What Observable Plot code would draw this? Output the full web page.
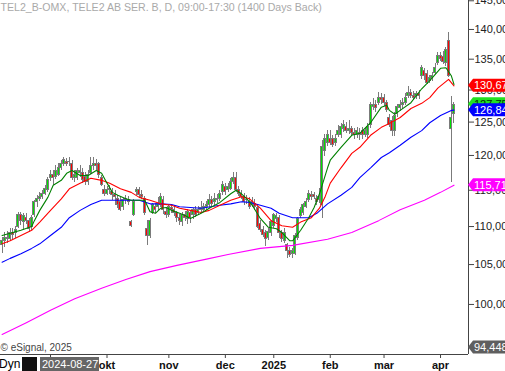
<!DOCTYPE html>
<html><head><meta charset="utf-8">
<script src="https://cdn.jsdelivr.net/npm/d3@7"></script>
<script src="https://cdn.jsdelivr.net/npm/@observablehq/plot@0.6"></script>
<style>
html,body{margin:0;padding:0;background:#fff;}
#wrap{position:relative;width:505px;height:371px;overflow:hidden;font-family:"Liberation Sans",Arial,sans-serif;background:#fff;}
.ov{position:absolute;white-space:nowrap;line-height:14px;}
</style></head><body>
<div id="wrap"></div>
<script>
// ---- data (daily candles, index 0 = early Aug 2024, index 168 = 2025-04-08) ----
const title = "TEL2_B-OMX, TELE2 AB SER. B, D, 09:00-17:30 (1400 Days Back)";
const copyright = "© eSignal, 2025";
const cursorDate = "2024-08-27";

const opens = [107.5,108.1,108.5,108.4,109.2,109.1,110.0,111.5,110.6,111.2,
110.8,109.9,111.5,113.3,113.8,114.1,114.5,115.0,116.7,117.1,
116.9,117.2,118.2,118.7,119.1,119.0,118.8,116.7,116.8,117.5,
117.5,116.9,116.1,117.5,118.4,118.7,118.7,116.7,115.1,114.5,
115.2,114.8,114.4,113.8,113.4,112.6,113.6,113.7,110.6,111.6,
114.7,115.0,114.4,113.8,109.7,108.7,111.9,112.7,112.6,113.0,
113.7,112.0,111.6,112.5,112.3,111.8,111.2,110.6,111.6,111.0,
111.8,111.5,112.3,111.9,112.2,112.3,112.6,112.9,113.6,113.3,
113.8,113.8,114.7,115.5,115.1,115.2,116.2,116.8,115.1,114.5,
114.1,113.6,113.3,112.9,113.1,112.5,110.4,109.6,109.1,108.5,
109.1,110.1,111.0,111.1,109.1,108.1,107.5,106.8,106.4,106.4,
108.5,111.4,111.9,112.7,113.6,114.3,114.4,113.8,113.6,112.9,
120.7,121.9,122.5,122.4,121.8,123.1,123.0,124.0,124.3,123.7,
123.9,123.3,123.1,123.4,123.7,123.1,123.1,124.5,127.4,127.7,
127.9,128.8,128.7,127.9,125.6,125.2,123.6,126.2,127.1,127.6,
127.9,129.0,129.5,129.1,129.0,129.3,132.2,133.0,132.5,131.5,
131.9,132.8,134.3,135.5,135.3,134.3,138.1,124.0,126.3];
const highs = [108.5,109.2,109.3,109.7,109.7,110.0,111.9,111.9,111.8,111.8,
111.1,111.5,113.6,114.3,114.7,115.0,115.7,116.8,117.8,117.8,
118.5,118.8,119.3,119.7,119.6,119.7,119.3,117.8,118.1,118.5,
118.1,117.5,117.8,119.7,119.7,119.4,119.0,117.1,115.7,115.5,
115.7,115.2,115.0,114.3,114.0,113.8,114.3,114.1,110.8,113.7,
115.4,115.4,115.0,114.1,110.8,111.1,113.1,113.1,114.0,114.5,
114.1,112.6,112.9,113.0,112.9,112.0,111.6,111.9,112.0,112.3,
112.2,112.5,112.7,112.7,113.4,113.1,113.4,114.4,114.1,114.5,
114.4,115.0,116.2,116.0,116.0,116.7,117.5,117.5,115.5,115.0,
114.5,114.3,114.0,114.0,113.7,112.7,110.8,110.0,109.5,109.7,
110.8,111.8,111.8,111.5,109.5,109.7,107.7,107.2,107.1,109.1,
111.2,112.6,113.1,113.8,115.0,114.8,114.7,114.3,115.2,122.2,
123.1,123.7,123.7,123.0,123.1,124.5,124.8,125.2,124.9,125.2,
124.3,124.0,124.2,124.0,124.2,124.0,124.8,128.0,128.7,128.4,
129.6,129.5,129.3,128.4,126.2,125.9,126.5,127.7,128.4,128.7,
129.5,130.6,130.1,129.8,129.8,129.9,134.0,133.5,133.2,132.3,
132.8,134.3,136.1,136.1,136.3,137.0,139.5,129.0,128.0];
const lows = [106.4,107.2,107.7,108.0,108.1,108.4,109.7,110.1,109.5,110.3,
109.2,109.5,111.2,112.6,113.4,113.7,114.3,114.7,116.2,115.7,
116.5,116.9,117.8,118.4,118.4,118.4,116.4,116.1,116.4,116.8,
116.0,115.7,115.7,117.2,117.8,117.8,116.7,115.5,114.1,114.3,
114.4,113.6,112.9,112.5,112.0,112.2,113.0,112.9,109.9,111.4,
114.3,114.0,113.7,111.5,107.5,108.4,111.6,111.8,112.2,112.6,
111.6,111.1,111.2,111.8,111.4,110.6,110.1,110.0,110.7,110.3,
110.4,111.0,111.2,111.5,111.9,112.0,112.2,112.5,112.6,112.9,
113.1,113.4,114.3,114.3,114.7,115.0,115.8,114.7,114.1,113.7,
112.9,113.0,112.3,112.6,112.2,109.7,109.2,108.5,107.3,108.1,
108.7,109.7,110.6,108.4,107.9,107.7,105.8,105.9,105.8,106.2,
108.1,111.1,111.5,112.5,113.3,113.6,113.7,112.9,113.1,111.1,
119.9,121.3,121.5,121.2,121.3,122.7,122.5,123.4,123.3,123.1,
122.8,122.4,122.5,122.2,122.4,122.7,122.5,124.0,126.8,126.5,
127.6,127.7,127.4,126.5,124.2,122.8,122.8,125.7,126.6,126.9,
127.6,128.7,128.7,128.4,128.5,128.5,131.7,131.5,130.9,131.1,
131.4,132.5,134.0,134.6,134.1,133.8,132.0,116.1,124.8];
const closes = [108.1,108.5,108.4,109.2,108.9,109.6,111.5,110.7,111.4,110.8,
109.7,111.1,113.3,113.8,114.1,114.5,115.2,116.4,117.2,116.8,
117.8,118.2,118.7,119.3,118.8,119.1,116.7,117.2,117.7,117.8,
116.5,116.1,117.2,118.5,118.8,118.4,117.1,115.8,114.5,115.1,
115.0,114.4,114.0,112.9,112.3,113.6,113.8,113.4,110.1,113.4,
115.0,114.4,114.1,111.9,108.7,110.7,112.9,112.3,113.1,114.0,
112.2,111.6,112.6,112.3,111.8,111.1,110.7,111.6,111.1,112.0,
111.2,112.2,111.6,112.3,112.5,112.7,113.0,113.7,113.1,113.8,
113.6,114.5,115.8,114.7,115.5,116.2,116.7,115.0,114.5,114.0,
113.3,113.7,112.7,113.4,112.6,110.0,109.6,108.9,108.4,109.3,
110.6,111.5,111.4,109.2,108.4,109.2,106.7,106.3,106.7,108.7,
111.0,112.2,112.9,113.4,114.5,114.0,114.0,113.4,114.1,121.3,
122.5,123.1,121.9,121.6,122.5,123.7,124.2,124.5,123.7,124.0,
123.3,123.0,123.6,123.1,123.0,123.6,124.2,127.6,127.7,127.1,
128.8,128.4,127.9,126.8,124.6,123.7,125.9,127.3,127.6,127.9,
128.8,129.6,129.1,128.8,129.3,129.0,133.5,132.2,131.2,131.9,
132.2,133.6,135.6,135.1,134.5,136.5,132.3,125.6,127.7];

// moving averages: [candle index, value]
const greenMA = [[0,108.8],[3,109.1],[7,109.5],[11,110.0],[12,110.8],[14,112.2],[17,114.0],[19,115.7],[22,116.4],[24,117.4],[26,117.8],[29,117.1],[32,117.1],[35,117.8],[37,117.4],[39,116.0],[41,114.7],[43,114.3],[46,113.8],[48,113.6],[53,113.6],[55,112.0],[57,111.8],[59,112.5],[61,112.6],[63,112.2],[66,111.8],[68,111.5],[70,111.1],[74,111.8],[77,112.5],[81,113.3],[85,114.5],[87,115.0],[89,114.5],[91,113.8],[93,112.9],[96,111.1],[99,109.9],[102,109.7],[104,109.2],[107,108.1],[108,108.1],[111,109.5],[114,111.2],[116,112.6],[118,114.5],[121,118.2],[122,119.3],[126,121.2],[130,123.0],[133,123.3],[137,124.9],[141,127.3],[143,127.6],[144,126.8],[146,126.2],[148,126.8],[152,128.0],[156,130.2],[159,131.5],[163,133.5],[165,133.6],[167,132.3],[168,130.9]];
const redMA = [[0,107.7],[3,108.1],[7,108.8],[11,109.5],[14,110.6],[18,112.2],[22,113.8],[25,115.2],[29,116.0],[33,116.7],[37,116.4],[40,116.0],[44,115.2],[48,114.7],[51,114.0],[55,113.6],[59,113.1],[63,112.9],[66,112.5],[70,112.2],[74,111.9],[77,112.2],[81,112.9],[85,113.6],[89,114.1],[92,113.8],[96,112.5],[100,110.8],[104,110.1],[106,110.0],[108,109.9],[111,110.6],[115,111.2],[118,112.5],[120,114.0],[122,116.0],[126,118.2],[130,120.3],[133,121.2],[137,123.0],[141,124.2],[144,124.8],[148,125.7],[152,127.1],[156,127.9],[159,128.8],[162,130.3],[166,131.7],[168,130.67]];
const blueMA = [[0,105.3],[3,105.8],[7,106.4],[11,107.1],[14,107.7],[18,108.8],[22,109.9],[25,111.2],[29,112.2],[33,113.0],[37,113.6],[51,113.6],[55,113.1],[59,113.1],[63,113.0],[66,112.7],[74,112.5],[81,112.9],[85,113.1],[89,113.4],[92,113.3],[96,112.9],[100,112.5],[103,111.8],[108,111.2],[114,111.2],[117,111.8],[121,113.1],[126,114.3],[130,115.4],[133,116.8],[137,118.2],[141,119.7],[144,120.4],[148,121.5],[152,122.7],[156,123.7],[159,124.9],[163,126.0],[167,126.8],[168,126.84]];
const magentaMA = [[0,96.4],[9,97.8],[18,99.3],[27,100.7],[37,102.0],[46,103.1],[55,104.1],[65,104.9],[76,105.7],[84,106.3],[96,107.1],[108,107.5],[121,108.3],[130,109.2],[140,110.8],[148,112.3],[157,113.6],[163,114.7],[168,115.71]];

// axes
const yTicks = [100,105,110,115,120,125,130,135,140,145];
const monthIdx = [18,39,62,83,101,122,142,163];
const monthLabels = ["","okt","nov","dec","2025","feb","mar","apr"];
const xDomain = [-0.6, 173.4];
const yDomain = [94.06, 145.05];

// price tags on the right axis
const tagValues = [130.67, 127.75, 126.84, 115.71, 94.448];
const tagFills = ["#ff0000", "#22e022", "#0000ff", "#ff00ff", "#5f5f5f"];
const tagTextColors = ["#ffffff", "#003300", "#ffffff", "#ffffff", "#ffffff"];

// ---- build ----
const candles = opens.map((o, i) => ({i, o, h: highs[i], l: lows[i], c: closes[i]}));
const up = candles.filter(d => d.c >= d.o);
const down = candles.filter(d => d.c < d.o);
const pts = arr => arr.map(([i, v]) => ({i, v}));
const labelOf = new Map(monthIdx.map((d, k) => [d, monthLabels[k]]));
const W = 505, H = 371, MR = 37, MB = 17;
const wick = "#7b7b7b";

const bodyOpts = (fill) => ({x1: d => d.i - 0.5, x2: d => d.i + 0.5, y1: "o", y2: "c",
  fill, stroke: wick, strokeWidth: 1, insetLeft: 0.35, insetRight: 0.35, shapeRendering: "crispEdges"});

const plot = Plot.plot({
  width: W, height: H,
  marginLeft: 0, marginRight: MR, marginTop: 0, marginBottom: MB,
  style: {fontFamily: '"Liberation Sans", Arial, sans-serif', background: "#fff", color: "#222", overflow: "hidden"},
  x: {type: "linear", domain: xDomain, axis: null},
  y: {type: "log", domain: yDomain, axis: null},
  marks: [
    Plot.ruleX(candles, {x: "i", y1: "l", y2: "h", stroke: wick, strokeWidth: 1, shapeRendering: "crispEdges"}),
    Plot.rect(up, bodyOpts("#00e000")),
    Plot.rect(down, bodyOpts("#ff0000")),
    Plot.line(pts(magentaMA), {x: "i", y: "v", stroke: "#ff00ff", strokeWidth: 1.1}),
    Plot.line(pts(blueMA), {x: "i", y: "v", stroke: "#0000ff", strokeWidth: 1.1}),
    Plot.line(pts(redMA), {x: "i", y: "v", stroke: "#ff0000", strokeWidth: 1.1}),
    Plot.line(pts(greenMA), {x: "i", y: "v", stroke: "#008000", strokeWidth: 1.1}),
    Plot.axisY({anchor: "right", ticks: yTicks, tickFormat: d => d.toFixed(2).replace(".", ","), label: null,
      tickSize: 5, tickPadding: 1, fontSize: 11, stroke: "#444", fill: "#222"}),
    Plot.axisX({ticks: monthIdx, tickFormat: d => labelOf.get(d), tickSize: 4, tickPadding: 3, label: null,
      fontSize: 11, fontWeight: "bold", stroke: "#444", fill: "#111"}),
    Plot.ruleX([xDomain[1]], {stroke: "#444", shapeRendering: "crispEdges"}),
    Plot.ruleY([yDomain[0]], {stroke: "#444", shapeRendering: "crispEdges"}),
    Plot.text([title], {frameAnchor: "top-left", text: d => d, textAnchor: "start", lineAnchor: "top",
      dx: 0, dy: 3, fontSize: 10.6, fill: "#a9a9a9"}),
    Plot.text([copyright], {frameAnchor: "bottom-left", text: d => d, textAnchor: "start", lineAnchor: "bottom",
      dx: 0, dy: -4, fontSize: 10, fill: "#444"})
  ]
});

// price tags drawn with the plot's own y scale
const ys = plot.scale("y");
const svg = d3.select(plot);
const x0 = W - MR;
const yBottom = H - MB;
const tg = svg.append("g").attr("text-anchor", "start");
tagValues.forEach((v, k) => {
  const y = Math.min(ys.apply(v), yBottom - 7);
  tg.append("path")
    .attr("d", `M${x0},${y}L${x0 + 5},${y - 6.5}H${W + 2}V${y + 6.5}H${x0 + 5}Z`)
    .attr("fill", tagFills[k]);
  tg.append("text")
    .attr("x", x0 + 6).attr("y", y).attr("dy", "0.36em")
    .attr("text-anchor", "start")
    .attr("fill", tagTextColors[k]).attr("font-size", 11)
    .text(String(v).replace(".", ","));
});

const wrap = document.getElementById("wrap");
wrap.appendChild(plot);

// bottom-left status items
const dyn = document.createElement("div");
dyn.className = "ov"; dyn.textContent = "Dyn";
Object.assign(dyn.style, {left: "-1px", top: "357px", fontSize: "12px", color: "#000"});
wrap.appendChild(dyn);
const icon = document.createElement("div");
icon.className = "ov";
Object.assign(icon.style, {left: "22px", top: "357px", width: "15px", height: "14px", background: "#111"});
wrap.appendChild(icon);
const dateBox = document.createElement("div");
dateBox.className = "ov"; dateBox.textContent = cursorDate;
Object.assign(dateBox.style, {left: "40px", top: "357px", width: "57px", height: "14px", paddingLeft: "2px",
  background: "#666", color: "#fff", fontSize: "11px"});
wrap.appendChild(dateBox);
</script>
</body></html>
